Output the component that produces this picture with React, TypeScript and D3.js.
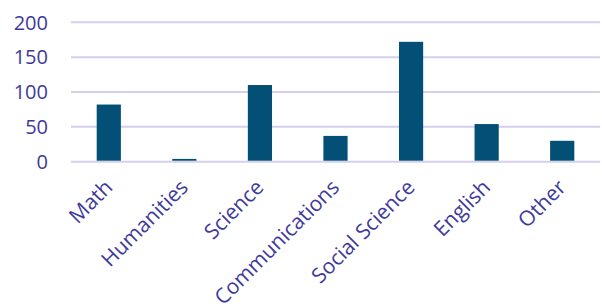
import React, { useEffect, useRef } from 'react';
import * as d3 from 'd3';

const categories = ['Math', 'Humanities', 'Science', 'Communications', 'Social Science', 'English', 'Other'];
const counts = [82, 4, 110, 37, 172, 54, 30];
const yTicks = [0, 50, 100, 150, 200];

const App = () => {
    const ref = useRef<SVGSVGElement>(null);
    const width = 602;
    const height = 307;
    const left = 71, right = 600, top = 22.3, bottom = 161.7;

    useEffect(() => {
        const svg = d3.select(ref.current);
        svg.selectAll('*').remove();

        const x = d3.scaleBand().domain(categories).range([left, right]).paddingInner(0.68).paddingOuter(0.34);
        const y = d3.scaleLinear().domain([0, 200]).range([bottom, top]);

        svg.append('g')
            .selectAll('line')
            .data(yTicks)
            .join('line')
            .attr('x1', left)
            .attr('x2', right)
            .attr('y1', d => y(d))
            .attr('y2', d => y(d))
            .attr('stroke', '#d3cfee')
            .attr('stroke-width', 2);

        svg.append('g')
            .attr('font-family', 'Open Sans, sans-serif')
            .attr('font-size', 20)
            .attr('fill', '#3d3a9c')
            .attr('text-anchor', 'end')
            .selectAll('text')
            .data(yTicks)
            .join('text')
            .attr('x', 48)
            .attr('y', d => y(d))
            .attr('dy', '0.36em')
            .text(d => d);

        svg.append('g')
            .attr('fill', '#034f75')
            .selectAll('rect')
            .data(counts)
            .join('rect')
            .attr('x', (d, i) => x(categories[i])!)
            .attr('width', x.bandwidth())
            .attr('y', d => y(d))
            .attr('height', d => y(0) - y(d) - 1);

        svg.append('g')
            .attr('font-family', 'Open Sans, sans-serif')
            .attr('font-size', 21)
            .attr('fill', '#3d3a9c')
            .attr('text-anchor', 'end')
            .selectAll('text')
            .data(categories)
            .join('text')
            .attr('transform', d => `translate(${x(d)! + x.bandwidth() / 2 + 5},${bottom + 27}) rotate(-45)`)
            .text(d => d);
    }, []);

    return (
        <svg ref={ref} width={width} height={height} style={{ position: 'absolute', left: 0, top: 0 }} />
    );
};

export default App;
